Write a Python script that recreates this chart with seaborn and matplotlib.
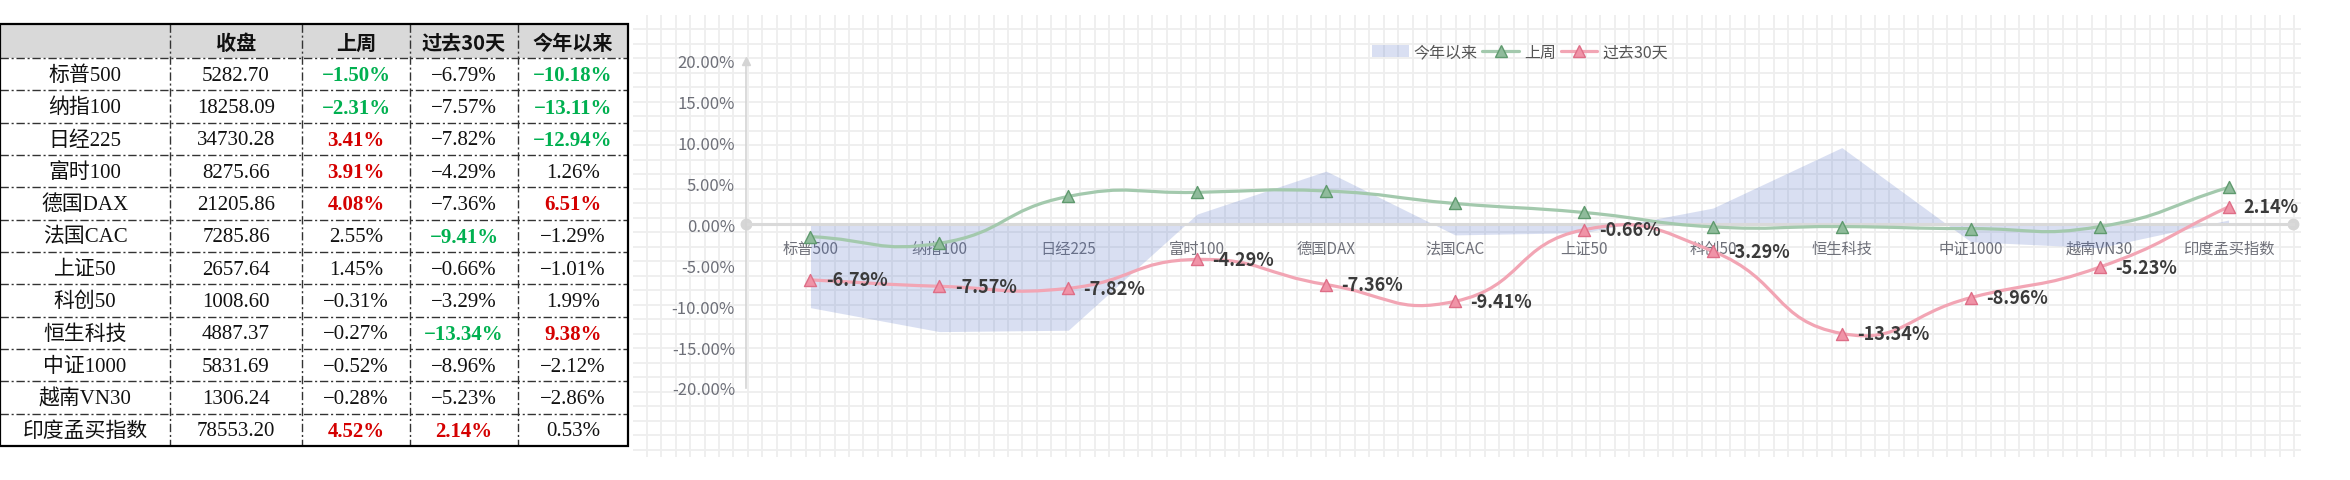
import numpy as np
import matplotlib
matplotlib.use("Agg")
import matplotlib.pyplot as plt
import seaborn as sns
from matplotlib.path import Path
from matplotlib.patches import PathPatch, Rectangle, Patch
from matplotlib.lines import Line2D

# Data
names = ['标普500', '纳指100', '日经225', '富时100', '德国DAX', '法国CAC',
         '上证50', '科创50', '恒生科技', '中证1000', '越南VN30', '印度孟买指数']
close = [5282.70, 18258.09, 34730.28, 8275.66, 21205.86, 7285.86,
         2657.64, 1008.60, 4887.37, 5831.69, 1306.24, 78553.20]
week = [-1.50, -2.31, 3.41, 3.91, 4.08, 2.55, 1.45, -0.31, -0.27, -0.52, -0.28, 4.52]
month = [-6.79, -7.57, -7.82, -4.29, -7.36, -9.41, -0.66, -3.29, -13.34, -8.96, -5.23, 2.14]
ytd = [-10.18, -13.11, -12.94, 1.26, 6.51, -1.29, -1.01, 1.99, 9.38, -2.12, -2.86, 0.53]
headers = ['', '收盘', '上周', '过去30天', '今年以来']

# highlighted cells in the table (g = green, r = red)
week_mark = ['g', 'g', 'r', 'r', 'r', '', '', '', '', '', '', 'r']
month_mark = ['', '', '', '', '', 'g', '', '', 'g', '', '', 'r']
ytd_mark = ['g', 'g', 'g', '', 'r', '', '', '', 'r', '', '', '']

sns.set_theme(style="white")
plt.rcParams['font.family'] = ['Noto Sans CJK SC', 'DejaVu Sans']
plt.rcParams['axes.unicode_minus'] = False

W, H = 2350, 481
fig = plt.figure(figsize=(W / 100, H / 100), dpi=100)

# background canvas in pixel units (table + sheet grid)
bg = fig.add_axes([0, 0, 1, 1])
bg.set_xlim(0, W)
bg.set_ylim(H, 0)
bg.axis('off')

# sheet grid behind the chart
gx0, gx1, gy0, gy1 = 633, 2301, 16, 458
xs_grid = np.arange(646.7 - 14.45, gx1, 14.45)
ys_grid = np.arange(30 - 14.5, gy1, 14.5)
bg.vlines(xs_grid[xs_grid >= gx0], gy0, gy1, color='#eeeeee', lw=1.3, zorder=0)
bg.hlines(ys_grid[ys_grid >= gy0], gx0, gx1, color='#eeeeee', lw=1.3, zorder=0)

# table
col_edges = [0, 170, 302, 410, 518, 628]
t_top, t_head, t_bot = 25, 59, 447
row_h = (t_bot - t_head) / len(names)
bg.add_patch(Rectangle((0, t_top), col_edges[-1], t_head - t_top,
                       facecolor='#d9d9d9', edgecolor='none', zorder=1))
dash = (0, (6, 2, 1.5, 2))
for i in range(len(names)):
    bg.hlines(t_head + row_h * i, 0, col_edges[-1], color='#333333', lw=1.0,
              linestyles=[dash], zorder=2)
for xe in col_edges[1:-1]:
    bg.vlines(xe, t_top, t_bot, color='#333333', lw=1.0, linestyles=[dash], zorder=2)
bg.add_patch(Rectangle((0, t_top), col_edges[-1], t_bot - t_top,
                       facecolor='none', edgecolor='black', lw=1.6, zorder=3))

cell_font = ['Liberation Serif', 'Noto Sans CJK SC']
col_mid = [(col_edges[k] + col_edges[k + 1]) / 2 for k in range(5)]
for k, h in enumerate(headers):
    bg.text(col_mid[k], (t_top + t_head) / 2 + 1, h, ha='center', va='center',
            fontsize=14.5, fontweight='bold', family='Noto Sans CJK SC', color='#111111', zorder=4)

mark_color = {'g': '#00b050', 'r': '#d40000', '': '#111111'}


def pct(v):
    return f"{v:.2f}%".replace('-', '−')


for i, nm in enumerate(names):
    yc = t_head + row_h * (i + 0.5) + 1
    bg.text(col_mid[0], yc, nm, ha='center', va='center', fontsize=15,
            family=cell_font, color='#111111', zorder=4)
    bg.text(col_mid[1], yc, f"{close[i]:.2f}", ha='center', va='center', fontsize=15,
            family=cell_font, color='#111111', zorder=4)
    for k, (vals, marks) in enumerate([(week, week_mark), (month, month_mark), (ytd, ytd_mark)]):
        m = marks[i]
        bg.text(col_mid[k + 2], yc, pct(vals[i]), ha='center', va='center', fontsize=15,
                family=cell_font, color=mark_color[m],
                fontweight='bold' if m else 'normal', zorder=4)

# chart
ax = fig.add_axes([746 / W, (H - 389) / H, (2293 - 746) / W, (389 - 61.7) / H])
ax.set_facecolor('none')
x = np.arange(len(names))

green_line, green_face, green_edge = '#a3c9ad', '#8fbb9b', '#5f9a6e'
pink_line, pink_face, pink_edge = '#f2a5b4', '#f093a7', '#de6e87'
area_color = '#5470c6'

ax.fill_between(x, ytd, 0, color=area_color, alpha=0.22, lw=0, zorder=1)

sns.scatterplot(x=x, y=week, marker='^', s=75, color=green_face, edgecolor=green_edge,
                linewidth=1.0, ax=ax, zorder=5)
sns.scatterplot(x=x, y=month, marker='^', s=75, color=pink_face, edgecolor=pink_edge,
                linewidth=1.0, ax=ax, zorder=6)

ax.set_xlim(-0.5, len(names) - 0.5)
ax.set_ylim(-20, 20)


def smooth_curve(xv, yv, color, z, smooth=0.5):
    # cubic bezier smoothing in screen space
    pts = ax.transData.transform(np.column_stack([xv, yv]))
    n = len(pts)
    cin, cout = [], []
    for i in range(n):
        p = pts[i]
        prev = pts[i - 1] if i > 0 else p
        nxt = pts[i + 1] if i < n - 1 else p
        v = nxt - prev
        d0 = np.hypot(*(p - prev))
        d1 = np.hypot(*(nxt - p))
        r = d1 / (d0 + d1) if d0 + d1 > 0 else 0.5
        cin.append(p - v * smooth * (1 - r))
        cout.append(p + v * smooth * r)
    verts = [pts[0]]
    codes = [Path.MOVETO]
    for i in range(n - 1):
        verts += [cout[i], cin[i + 1], pts[i + 1]]
        codes += [Path.CURVE4] * 3
    path = Path(ax.transData.inverted().transform(np.array(verts)), codes)
    ax.add_patch(PathPatch(path, fill=False, edgecolor=color, lw=2.3,
                           capstyle='round', zorder=z))


smooth_curve(x, week, green_line, 3)
smooth_curve(x, month, pink_line, 4)

for xi, v in zip(x, month):
    ax.annotate(f"{v:.2f}%", (xi, v), xytext=(11, 0), textcoords='offset points',
                ha='left', va='center', fontsize=13, fontweight='bold',
                color='#3a3a3a', zorder=8)

# axes styling
for s in ['top', 'right']:
    ax.spines[s].set_visible(False)
ax.spines['left'].set_color('#d4d4d4')
ax.spines['left'].set_linewidth(1.2)
ax.spines['bottom'].set_position(('data', 0))
ax.spines['bottom'].set_color('#d9d9d9')
ax.spines['bottom'].set_linewidth(2.2)
ax.spines['bottom'].set_zorder(2)
ax.plot([0, 1], [0, 0], 'o', ms=7.5, color='#d6d6d6', transform=ax.get_yaxis_transform(),
        clip_on=False, zorder=2)
ax.plot([0], [1], '^', ms=6, color='#d4d4d4', transform=ax.transAxes, clip_on=False, zorder=2)

ax.set_xticks(x)
ax.set_xticklabels(names)
ax.set_yticks(np.arange(-20, 21, 5))
ax.set_yticklabels([f"{v:.2f}%" for v in np.arange(-20, 21, 5)])
ax.tick_params(axis='x', length=0, pad=11, labelsize=11, labelcolor='#6e7079')
ax.tick_params(axis='y', length=0, pad=8, labelsize=12, labelcolor='#6e7079')
ax.grid(False)

handles = [Patch(facecolor=area_color, alpha=0.22, edgecolor='none'),
           Line2D([], [], color=green_line, lw=2.3, marker='^', ms=8.5,
                  markerfacecolor=green_face, markeredgecolor=green_edge),
           Line2D([], [], color=pink_line, lw=2.3, marker='^', ms=8.5,
                  markerfacecolor=pink_face, markeredgecolor=pink_edge)]
fig.legend(handles, ['今年以来', '上周', '过去30天'], loc='center',
           bbox_to_anchor=(1520 / W, 1 - 53 / H), ncol=3, frameon=False,
           fontsize=11.5, labelcolor='#555555', handlelength=2.3, handleheight=0.7,
           handletextpad=0.3, columnspacing=0.3)

fig.savefig("out.png", dpi=100)
